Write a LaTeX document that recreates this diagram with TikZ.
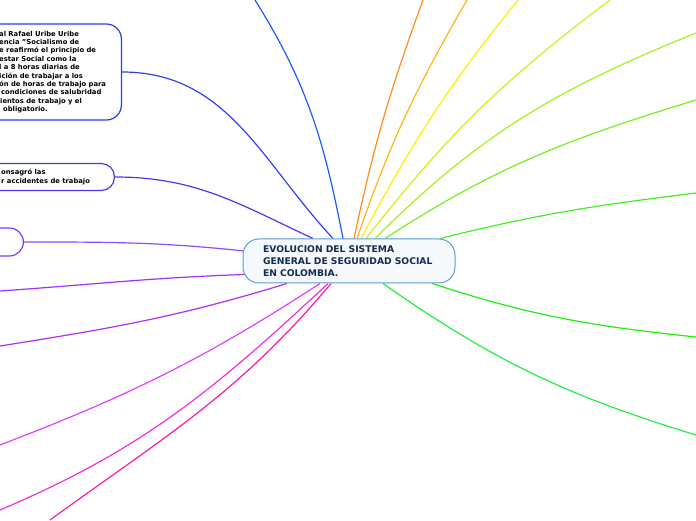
\documentclass[tikz,border=0pt]{standalone}
\usepackage{fontspec}
\setmainfont{DejaVu Sans}
\usetikzlibrary{backgrounds}

\definecolor{rootline}{HTML}{5B9BD5}
\definecolor{rootfill}{HTML}{F6F9FC}
\definecolor{rootink}{HTML}{172B4D}
\definecolor{boxA}{HTML}{2A3CF0}
\definecolor{boxB}{HTML}{5533EE}
\definecolor{boxC}{HTML}{7A3CFF}
\definecolor{topA}{HTML}{2258FF}
\definecolor{lineA}{HTML}{3340EE}
\definecolor{lineB}{HTML}{5A30F0}
\definecolor{lineC}{HTML}{8A4CFF}
\definecolor{leftA}{HTML}{9B30FF}
\definecolor{leftB}{HTML}{B030F0}
\definecolor{leftC}{HTML}{E040FF}
\definecolor{leftD}{HTML}{F030E0}
\definecolor{leftE}{HTML}{FF1AA0}
\definecolor{fanA}{HTML}{FF8C1A}
\definecolor{fanB}{HTML}{FFB319}
\definecolor{fanC}{HTML}{FFEE00}
\definecolor{fanD}{HTML}{D4EE1A}
\definecolor{fanE}{HTML}{AAEE22}
\definecolor{fanF}{HTML}{77EE22}
\definecolor{fanG}{HTML}{44EE22}
\definecolor{downA}{HTML}{22EE11}
\definecolor{downB}{HTML}{22EE44}

\tikzset{
  root/.style={draw=rootline, line width=1pt, fill=rootfill, rounded corners=16pt,
    minimum width=212pt, minimum height=44pt, inner sep=0pt, align=left,
    text width=172pt, text=rootink, font=\fontsize{9.2}{12}\selectfont\bfseries},
  note/.style={draw, line width=1.2pt, fill=white, rounded corners=#1},
  note/.default=14pt,
  notetext/.style={inner sep=0pt, align=left, text=black,
    font=\fontsize{6.8}{8.4}\selectfont\bfseries},
  branch/.style={line width=1.2pt}
}

\begin{document}
\begin{tikzpicture}[x=1pt,y=1pt]
  \useasboundingbox (0,0) rectangle (696,520);
  % central topic
  \node[root] (root) at (349,259) {EVOLUCION DEL SISTEMA\\GENERAL DE SEGURIDAD SOCIAL\\EN COLOMBIA.};
  % Left: boxes cut by the border
  \node[note=15pt, draw=boxA, minimum width=262pt, minimum height=96pt, anchor=east] (b1) at (122,448) {};
  \node[notetext, anchor=west] (b1t) at (-1,448) {al Rafael Uribe Uribe\\encia "Socialismo de\\e reafirmó el principio de\\estar Social como la\\l a 8 horas diarias de\\ición de trabajar a los\\ón de horas de trabajo para\\\hspace*{2pt}condiciones de salubridad\\\hspace*{1pt}ientos de trabajo y el\\\hspace*{4pt}obligatorio.};
  \node[note=13pt, draw=boxB, minimum width=200pt, minimum height=27pt, anchor=east] (b2) at (115,343) {};
  \node[notetext, anchor=west] (b2t) at (1,343) {onsagró las\\r accidentes de trabajo};
  \node[note=14pt, draw=boxC, minimum width=120pt, minimum height=28pt, anchor=east] (b3) at (24,278) {};
  % free ends on the border
  \coordinate (top) at (255,520);
  \coordinate (up1) at (423,520);
  \coordinate (up2) at (467,520);
  \coordinate (up3) at (518,520);
  \coordinate (up4) at (610,520);
  \coordinate (up5) at (696,487);
  \coordinate (up6) at (696,420);
  \coordinate (up7) at (696,327);
  \coordinate (dn1) at (696,183);
  \coordinate (dn2) at (696,85);
  \coordinate (lf1) at (0,229);
  \coordinate (lf2) at (0,174);
  \coordinate (lf3) at (0,75);
  \coordinate (lf4) at (0,10);
  \coordinate (lf5) at (50,0);
  \begin{scope}[on background layer]
    % Upper left
    \draw[branch, topA] ([xshift=-6pt]root.north) to[out=101, in=-58] (top);
    \draw[branch, lineA] ([xshift=-16pt]root.north) to[out=133, in=0] (b1.east);
    \draw[branch, lineB] ([xshift=-36pt]root.north) to[out=155, in=0] (b2.east);
    \draw[branch, lineC] ([shift={(2pt,10pt)}]root.west) to[out=174, in=0] (b3.east);
    % Upper right fan
    \foreach \e/\c/\s/\o/\i in {up1/fanA/5/78/250, up2/fanB/8/71/240, up3/fanC/12/62/231,
        up4/fanD/17/52/217, up5/fanE/26/45/202, up6/fanF/36/33/197, up7/fanG/91/14/187}
      \draw[branch, \c] ([xshift=\s pt]root.north) to[out=\o, in=\i] (\e);
    % Lower right
    \draw[branch, downA] ([xshift=83pt]root.south) to[out=-18, in=174] (dn1);
    \draw[branch, downB] ([xshift=34pt]root.south) to[out=-35, in=163] (dn2);
    % Lower left
    \draw[branch, leftA] ([shift={(2pt,9pt)}]root.south west) to[out=182, in=4] (lf1);
    \foreach \e/\c/\s/\o/\i in {lf2/leftB/-62/197/9, lf3/leftC/-29/213/21,
        lf4/leftD/-21/223/23, lf5/leftE/-18/230/36}
      \draw[branch, \c] ([xshift=\s pt]root.south) to[out=\o, in=\i] (\e);
  \end{scope}
\end{tikzpicture}
\end{document}
